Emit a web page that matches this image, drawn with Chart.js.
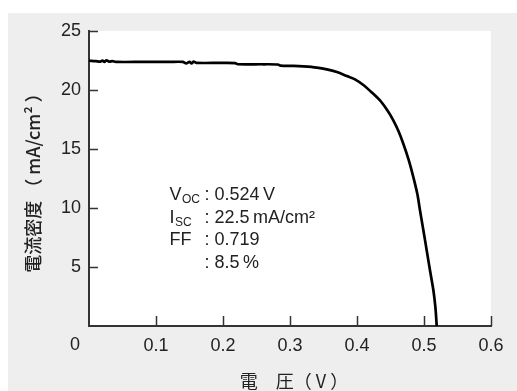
<!DOCTYPE html>
<html>
<head>
<meta charset="utf-8">
<script src="https://cdn.jsdelivr.net/npm/chart.js@4/dist/chart.umd.min.js"></script>
<style>
  html, body { margin: 0; padding: 0; background: #ffffff; }
  #frame { position: absolute; left: 8px; top: 13px; width: 509px; height: 378px; background: #eeeeee; }
  #ivChart { position: absolute; left: 0; top: 0; }
</style>
</head>
<body>
<div id="frame"></div>
<canvas id="ivChart" width="517" height="391"></canvas>
<script>
// 電圧 (V) と電流密度 (mA/cm2) - 図から読み取った値
const voltage = [0, 0.01, 0.017, 0.02, 0.023, 0.026, 0.03, 0.035, 0.04, 0.08, 0.12, 0.14, 0.145, 0.15, 0.153, 0.156, 0.16, 0.2, 0.218, 0.222, 0.26, 0.282, 0.286, 0.305, 0.32, 0.34, 0.355, 0.37, 0.385, 0.397, 0.41, 0.42, 0.434, 0.445, 0.454, 0.462, 0.469, 0.477, 0.484, 0.49, 0.494, 0.5, 0.504, 0.509, 0.514, 0.517, 0.519];
const currentDensity = [22.48, 22.45, 22.4, 22.5, 22.38, 22.52, 22.4, 22.45, 22.38, 22.38, 22.38, 22.38, 22.25, 22.38, 22.25, 22.4, 22.3, 22.3, 22.28, 22.18, 22.18, 22.16, 22.06, 22.04, 22.0, 21.9, 21.75, 21.52, 21.18, 20.9, 20.4, 19.9, 19.14, 18.3, 17.45, 16.5, 15.47, 14.1, 12.64, 11.2, 9.81, 7.8, 6.42, 4.7, 3.03, 1.6, 0];

// 目盛り
const voltageTicks = [0, 0.1, 0.2, 0.3, 0.4, 0.5, 0.6];
const currentTicks = [0, 5, 10, 15, 20, 25];

// 特性値
const paramLabels = ['V', 'I', 'FF', ''];
const paramSubs = ['OC', 'SC', '', ''];
const paramValues = ['0.524\u2009V', '22.5\u2009mA/cm\u00b2', '0.719', '8.5\u2009%'];

const latin = '"Liberation Sans", Arial, sans-serif';
const cjk = '"Noto Sans CJK JP", sans-serif';

// プロット領域の背景・内向き目盛り・特性値テキスト
const decorPlugin = {
    id: 'decor',
    beforeDraw(chart) {
        const a = chart.chartArea;
        const ctx = chart.ctx;
        ctx.save();
        ctx.fillStyle = '#ffffff';
        ctx.fillRect(a.left, a.top, a.right - a.left, a.bottom - a.top);
        ctx.restore();
    },
    afterDraw(chart) {
        const ctx = chart.ctx;
        const xs = chart.scales.x;
        const ys = chart.scales.y;
        const a = chart.chartArea;
        ctx.save();
        ctx.strokeStyle = '#333333';
        ctx.lineWidth = 1.5;
        xs.ticks.forEach(t => {
            if (t.value === 0) return;
            const px = Math.round(xs.getPixelForValue(t.value)) + 0.5;
            ctx.beginPath();
            ctx.moveTo(px, a.bottom);
            ctx.lineTo(px, a.bottom - 10);
            ctx.stroke();
        });
        ys.ticks.forEach(t => {
            if (t.value === 0) return;
            const py = Math.round(ys.getPixelForValue(t.value)) + 0.5;
            ctx.beginPath();
            ctx.moveTo(a.left, py);
            ctx.lineTo(a.left + 9, py);
            ctx.stroke();
        });

        // 原点の「0」
        ctx.fillStyle = '#222222';
        ctx.font = '18px ' + latin;
        ctx.textAlign = 'center';
        ctx.textBaseline = 'middle';
        ctx.fillText('0', a.left - 14, a.bottom + 19);

        // 特性値
        ctx.textAlign = 'left';
        ctx.textBaseline = 'alphabetic';
        const x0 = xs.getPixelForValue(0.12);
        const y0 = ys.getPixelForValue(10.66);
        paramLabels.forEach((label, i) => {
            const y = y0 + i * 22.5;
            ctx.font = '18px ' + latin;
            ctx.fillText(label, x0, y);
            const w = ctx.measureText(label).width;
            if (paramSubs[i]) {
                ctx.font = '12px ' + latin;
                ctx.fillText(paramSubs[i], x0 + w + 0.5, y + 3);
            }
            ctx.font = '18px ' + latin;
            ctx.fillText(':', x0 + 35, y);
            ctx.fillText(paramValues[i], x0 + 45, y);
        });
        ctx.restore();
    }
};

new Chart(document.getElementById('ivChart'), {
    type: 'scatter',
    data: {
        datasets: [{
            data: voltage.map((v, i) => ({ x: v, y: currentDensity[i] })),
            showLine: true,
            borderColor: '#000000',
            borderWidth: 2.7,
            pointRadius: 0,
            tension: 0.3,
            clip: false
        }]
    },
    options: {
        responsive: false,
        animation: false,
        layout: { padding: { top: 31, right: 26, left: 0, bottom: 0 } },
        plugins: {
            legend: { display: false },
            tooltip: { enabled: false }
        },
        scales: {
            x: {
                type: 'linear',
                min: 0,
                max: 0.6,
                afterBuildTicks: scale => { scale.ticks = voltageTicks.map(v => ({ value: v })); },
                afterFit: scale => { scale.height = 65; },
                grid: { display: false, drawTicks: false },
                border: { display: true, color: '#333333', width: 2 },
                ticks: {
                    padding: 9,
                    color: '#222222',
                    font: { family: latin, size: 18 },
                    maxRotation: 0,
                    callback: v => v === 0 ? '' : v.toFixed(1)
                },
                title: {
                    display: true,
                    text: '  電　圧（ V ）',
                    color: '#222222',
                    font: { family: cjk, size: 18 },
                    padding: { top: 0, bottom: -1 }
                }
            },
            y: {
                min: 0,
                max: 25,
                afterBuildTicks: scale => { scale.ticks = currentTicks.map(v => ({ value: v })); },
                afterFit: scale => { scale.width = 89; },
                grid: { display: false, drawTicks: false },
                border: { display: true, color: '#333333', width: 2 },
                ticks: {
                    padding: 8,
                    color: '#222222',
                    font: { family: latin, size: 18 },
                    callback: v => v === 0 ? '' : String(v)
                },
                title: {
                    display: true,
                    text: '電流密度 （ mA/cm² ）',
                    color: '#222222',
                    font: { family: cjk, size: 18, weight: '500' },
                    padding: { top: 22, bottom: 0 }
                }
            }
        }
    },
    plugins: [decorPlugin]
});
</script>
</body>
</html>
